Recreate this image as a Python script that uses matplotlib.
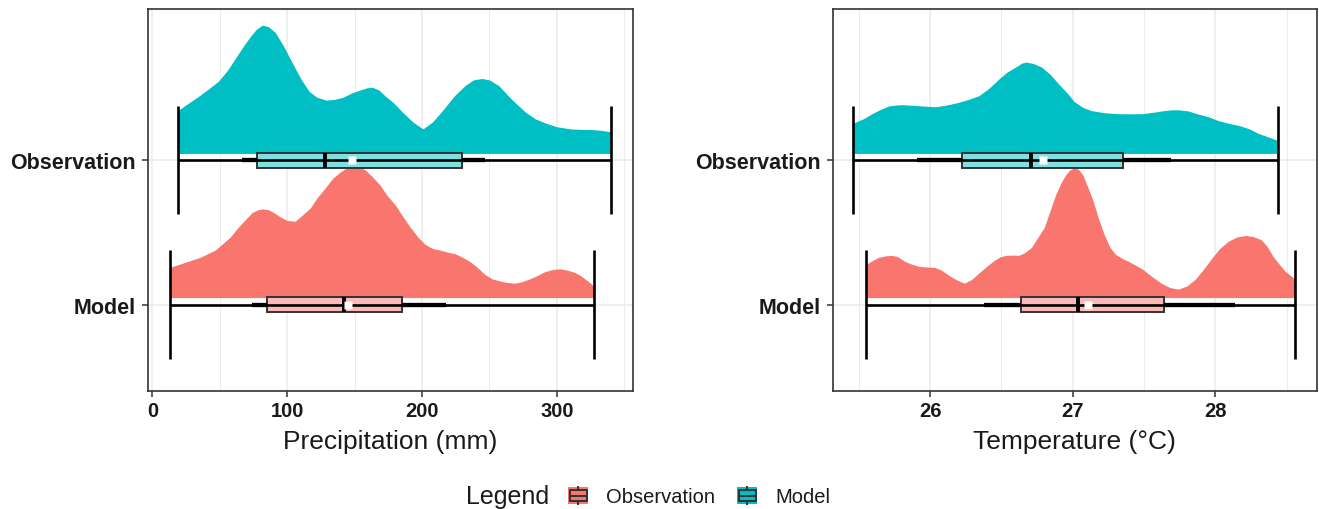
import matplotlib
matplotlib.use("Agg")
import matplotlib.pyplot as plt
from matplotlib.patches import Rectangle
from matplotlib.lines import Line2D
import numpy as np

plt.rcParams['font.family'] = ['Liberation Sans', 'DejaVu Sans']

# ---------------------------------------------------------------- data
row_labels = ["Model", "Observation"]          # y = 1, 2
row_colors = {"Observation": "#00BFC4", "Model": "#F8766D"}
box_fills = {"Observation": "#80DFE1", "Model": "#FBBAB6"}

# half-eye density outlines (height in row units above the box)
precip_obs_x = [19.3, 27, 34.8, 42, 48.9, 56, 63.0, 68, 72.6, 77, 81.5, 86, 91.1, 97, 103.7, 110,
                116.3, 122, 128.9, 135, 141.5, 148, 154.1, 159, 163.0, 168, 172.6, 179, 185.2,
                193, 200.7, 208, 216.3, 224, 231.9, 238, 244.4, 250, 257.0, 266, 276.3, 284,
                291.9, 300, 310.4, 318, 325.9, 333, 340.0]
precip_obs_h = [0.30, 0.35, 0.40, 0.45, 0.50, 0.58, 0.68, 0.75, 0.81, 0.86, 0.89, 0.88, 0.84, 0.75,
                0.63, 0.52, 0.43, 0.39, 0.37, 0.375, 0.39, 0.42, 0.44, 0.455, 0.46, 0.44, 0.40, 0.35,
                0.29, 0.22, 0.17, 0.22, 0.31, 0.40, 0.47, 0.51, 0.52, 0.51, 0.47, 0.38, 0.29, 0.24,
                0.21, 0.185, 0.17, 0.167, 0.166, 0.16, 0.15]

precip_mod_x = [13.3, 24.4, 35.6, 46.7, 57.8, 63, 68.9, 74, 78.5, 82, 85.9, 90, 94.8, 100, 105.9,
                111, 117.0, 122, 128.1, 134, 139.3, 144, 148.1, 153, 157.8, 163, 168.9, 174,
                180.0, 186, 191.1, 197, 202.2, 208, 213.3, 219, 224.4, 230, 235.6, 241, 246.7,
                252, 257.8, 263, 268.9, 274, 280.0, 286, 291.1, 297, 302.2, 308, 313.3, 318,
                323.0, 327.4]
precip_mod_h = [0.21, 0.245, 0.28, 0.33, 0.42, 0.48, 0.54, 0.59, 0.61, 0.615, 0.61, 0.59, 0.56,
                0.535, 0.53, 0.57, 0.62, 0.69, 0.76, 0.83, 0.87, 0.90, 0.914, 0.91, 0.886, 0.84,
                0.78, 0.71, 0.645, 0.56, 0.49, 0.42, 0.37, 0.34, 0.33, 0.315, 0.305, 0.28, 0.25,
                0.21, 0.16, 0.13, 0.115, 0.105, 0.10, 0.11, 0.13, 0.155, 0.18, 0.195, 0.20, 0.19,
                0.175, 0.15, 0.115, 0.08]

temp_obs_x = [25.46, 25.54, 25.59, 25.65, 25.71, 25.76, 25.80, 25.86, 25.92, 25.98, 26.04, 26.11,
              26.19, 26.26, 26.34, 26.41, 26.48, 26.54, 26.60, 26.64, 26.67, 26.72, 26.78, 26.84,
              26.90, 26.96, 27.01, 27.07, 27.13, 27.22, 27.31, 27.40, 27.49, 27.56, 27.64, 27.69,
              27.74, 27.81, 27.87, 27.95, 28.02, 28.09, 28.17, 28.24, 28.30, 28.37, 28.44]
temp_obs_h = [0.21, 0.245, 0.275, 0.305, 0.33, 0.336, 0.338, 0.335, 0.331, 0.327, 0.324, 0.335,
              0.352, 0.372, 0.40, 0.45, 0.515, 0.565, 0.60, 0.625, 0.634, 0.625, 0.60, 0.55,
              0.483, 0.42, 0.36, 0.32, 0.297, 0.283, 0.276, 0.275, 0.276, 0.285, 0.297, 0.302,
              0.303, 0.295, 0.276, 0.255, 0.228, 0.21, 0.193, 0.17, 0.14, 0.115, 0.09]

temp_mod_x = [25.55, 25.60, 25.64, 25.69, 25.73, 25.77, 25.82, 25.87, 25.92, 25.98, 26.03, 26.08,
              26.13, 26.19, 26.24, 26.29, 26.34, 26.40, 26.45, 26.49, 26.53, 26.58, 26.62, 26.66,
              26.71, 26.75, 26.80, 26.84, 26.88, 26.92, 26.95, 26.98, 27.01, 27.04, 27.07, 27.10,
              27.14, 27.18, 27.22, 27.26, 27.30, 27.35, 27.39, 27.44, 27.49, 27.55, 27.62, 27.68,
              27.74, 27.80, 27.86, 27.92, 27.98, 28.03, 28.09, 28.15, 28.21, 28.26, 28.32, 28.36,
              28.41, 28.45, 28.49, 28.56]
temp_mod_h = [0.23, 0.26, 0.28, 0.29, 0.293, 0.285, 0.252, 0.232, 0.217, 0.212, 0.21, 0.19,
              0.155, 0.12, 0.10, 0.125, 0.169, 0.22, 0.259, 0.282, 0.293, 0.295, 0.293, 0.31,
              0.348, 0.41, 0.486, 0.60, 0.714, 0.80, 0.852, 0.885, 0.90, 0.89, 0.852, 0.78,
              0.679, 0.55, 0.438, 0.35, 0.30, 0.27, 0.252, 0.225, 0.197, 0.15, 0.10, 0.07,
              0.059, 0.08, 0.128, 0.20, 0.279, 0.34, 0.39, 0.42, 0.431, 0.425, 0.403, 0.36,
              0.279, 0.23, 0.183, 0.128]

# box statistics: min, whisker low, q1, median, mean, q3, whisker high, max
precip_obs_stats = dict(lo=19.3, wlo=66.4, q1=77.3, med=128.4, mean=148.1, q3=230.0, whi=246.7, hi=340.0)
precip_mod_stats = dict(lo=13.3, wlo=73.8, q1=85.0, med=142.0, mean=145.0, q3=185.4, whi=218.0, hi=327.4)
temp_obs_stats = dict(lo=25.46, wlo=25.91, q1=26.22, med=26.71, mean=26.79, q3=27.35, whi=27.69, hi=28.44)
temp_mod_stats = dict(lo=25.55, wlo=26.38, q1=26.64, med=27.04, mean=27.11, q3=27.64, whi=28.14, hi=28.56)

precip_ticks = [0, 100, 200, 300]
temp_ticks = [26, 27, 28]

# ---------------------------------------------------------------- figure
W, H = 1319, 510
fig = plt.figure(figsize=(W / 100, H / 100), dpi=100)

BOX_HALF = 0.053
SLAB_BASE = 0.048
CAP_HALF = 0.375


def draw_row(ax, y, xs, hs, st, name):
    col = row_colors[name]
    hs = np.asarray(hs)
    ax.fill_between(xs, y + SLAB_BASE, y + SLAB_BASE + hs, color=col, lw=0, zorder=2)
    ax.add_patch(Rectangle((st['q1'], y - BOX_HALF), st['q3'] - st['q1'], 2 * BOX_HALF,
                           facecolor=box_fills[name], edgecolor='#333333', lw=1.4, zorder=3))
    ax.plot([st['lo'], st['hi']], [y, y], color='black', lw=1.9, zorder=4, solid_capstyle='butt')
    for v in (st['lo'], st['hi']):
        ax.plot([v, v], [y - CAP_HALF, y + CAP_HALF], color='black', lw=1.9, zorder=4,
                solid_capstyle='butt')
    ax.plot([st['wlo'], st['q1']], [y, y], color='black', lw=3.1, zorder=4, solid_capstyle='butt')
    ax.plot([st['q3'], st['whi']], [y, y], color='black', lw=3.1, zorder=4, solid_capstyle='butt')
    ax.plot([st['med'], st['med']], [y - BOX_HALF, y + BOX_HALF], color='black', lw=2.8,
            zorder=5, solid_capstyle='butt')
    ax.plot([st['mean']], [y], marker='s', ms=6, color='white', mec='none', zorder=6)


def style_axis(ax, xlim, ticks, minor, xlabel):
    ax.set_xlim(*xlim)
    ax.set_ylim(0.40, 3.05)
    ax.set_xticks(ticks)
    ax.set_xticks(minor, minor=True)
    ax.set_yticks([1, 2])
    ax.set_yticklabels(row_labels)
    ax.set_axisbelow(True)
    ax.grid(which='major', color='#EBEBEB', lw=1.1)
    ax.grid(which='minor', axis='x', color='#EBEBEB', lw=0.7)
    for s in ax.spines.values():
        s.set_color('#333333')
        s.set_linewidth(1.2)
    ax.tick_params(which='major', color='#333333', width=1.1, length=4.3, pad=3)
    ax.tick_params(axis='y', which='major', pad=4.5)
    ax.tick_params(which='minor', length=0)
    for lab in ax.get_xticklabels():
        lab.set_fontweight('bold'); lab.set_fontsize(14.5); lab.set_color('#1a1a1a')
    for lab in ax.get_yticklabels():
        lab.set_fontweight('bold'); lab.set_fontsize(15.5); lab.set_color('#1a1a1a')
    ax.set_xlabel(xlabel, fontsize=19, labelpad=6.5, color='#1a1a1a')


ax1 = fig.add_axes([148.3 / W, 1 - 392 / H, (632.7 - 148.3) / W, (392 - 10) / H])
ax2 = fig.add_axes([832.7 / W, 1 - 392 / H, (1316.5 - 832.7) / W, (392 - 10) / H])

draw_row(ax1, 2, precip_obs_x, precip_obs_h, precip_obs_stats, "Observation")
draw_row(ax1, 1, precip_mod_x, precip_mod_h, precip_mod_stats, "Model")
style_axis(ax1, (-3.0, 356.3), precip_ticks, [50, 150, 250, 350], "Precipitation (mm)")

draw_row(ax2, 2, temp_obs_x, temp_obs_h, temp_obs_stats, "Observation")
draw_row(ax2, 1, temp_mod_x, temp_mod_h, temp_mod_stats, "Model")
style_axis(ax2, (25.316, 28.71), temp_ticks, [25.5, 26.5, 27.5, 28.5], "Temperature (°C)")

# ---------------------------------------------------------------- legend
def px(x, y):
    return x / W, 1 - y / H


def legend_key(x0, y0, color):
    # boxplot key glyph: coloured square, outlined box, median and whisker stubs
    w, h = 20, 17
    fx, fy = px(x0, y0 + h)
    fig.add_artist(Rectangle((fx, fy), w / W, h / H, transform=fig.transFigure,
                             facecolor=color, edgecolor='none'))
    bx, by = px(x0 + 1.5, y0 + 14)
    fig.add_artist(Rectangle((bx, by), (w - 3) / W, 11 / H, transform=fig.transFigure,
                             facecolor=color, edgecolor='#333333', lw=1.4))
    cx = x0 + w / 2
    for (xa, ya, xb, yb) in [(x0 + 1.5, y0 + 8.5, x0 + w - 1.5, y0 + 8.5),
                             (cx, y0, cx, y0 + 3), (cx, y0 + 14, cx, y0 + h)]:
        p1, p2 = px(xa, ya), px(xb, yb)
        fig.add_artist(Line2D([p1[0], p2[0]], [p1[1], p2[1]], transform=fig.transFigure,
                              color='#333333', lw=1.4))


legend_labels = ["Observation", "Model"]
legend_colors = ["#F8766D", "#00BFC4"]
fig.text(*px(466, 504), "Legend", fontsize=18, ha='left', va='baseline', color='#1a1a1a')
for lx, tx, lab, col in zip([568, 737], [606, 775], legend_labels, legend_colors):
    legend_key(lx, 488, col)
    fig.text(*px(tx, 503), lab, fontsize=14.5, ha='left', va='baseline', color='#1a1a1a')

fig.savefig("out.png", dpi=100)
